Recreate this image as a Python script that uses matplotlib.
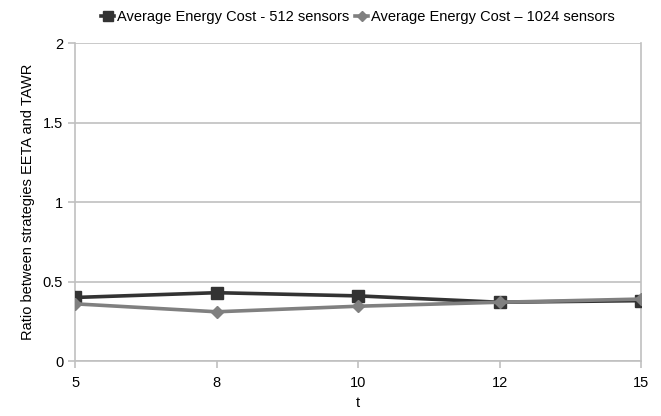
import matplotlib.pyplot as plt
import numpy as np

plt.rcParams['font.family'] = ['Liberation Sans', 'DejaVu Sans']

t_labels = ["5", "8", "10", "12", "15"]
cost_512 = [0.40, 0.43, 0.41, 0.37, 0.38]
cost_1024 = [0.36, 0.31, 0.345, 0.37, 0.39]

grid_color = "#c0c0c0"

fig = plt.figure(figsize=(6.61, 4.16), dpi=100)
ax = fig.add_axes([0.1135, 0.132, 0.8565, 0.7646])

x = np.arange(len(t_labels))
ax.plot(x, cost_512, color="#333333", linewidth=2.6, marker="s", markersize=8.5,
        label="Average Energy Cost - 512 sensors", zorder=3)
ax.plot(x, cost_1024, color="#808080", linewidth=2.6, marker="D", markersize=6.5,
        label="Average Energy Cost \u2013 1024 sensors", zorder=4)

ax.set_xlim(0, len(t_labels) - 1)
ax.set_ylim(0, 2)
ax.set_xticks(x)
ax.set_xticklabels(t_labels)
ax.set_yticks([0, 0.5, 1, 1.5, 2])
ax.set_yticklabels(["0", "0.5", "1", "1.5", "2"])

ax.yaxis.grid(True, color=grid_color, linewidth=1.2)
ax.set_axisbelow(True)
for side in ["left", "bottom", "right"]:
    ax.spines[side].set_color(grid_color)
    ax.spines[side].set_linewidth(1.2)
ax.spines["top"].set_visible(False)
ax.tick_params(axis="both", colors=grid_color, labelcolor="black", labelsize=10.5,
               length=5, width=1.2)
ax.tick_params(axis="x", pad=6)

ax.set_xlabel("t", fontsize=10.5, labelpad=4)
ax.set_ylabel("Ratio between strategies EETA and TAWR", fontsize=10.5, labelpad=6)

ax.legend(loc="center", bbox_to_anchor=(0.5, 1.082), ncol=2, frameon=False,
          fontsize=10.5, handlelength=0.9, handletextpad=0.2, columnspacing=0.4,
          markerscale=0.8, borderaxespad=0, borderpad=0)

fig.savefig("out.png", dpi=100)
